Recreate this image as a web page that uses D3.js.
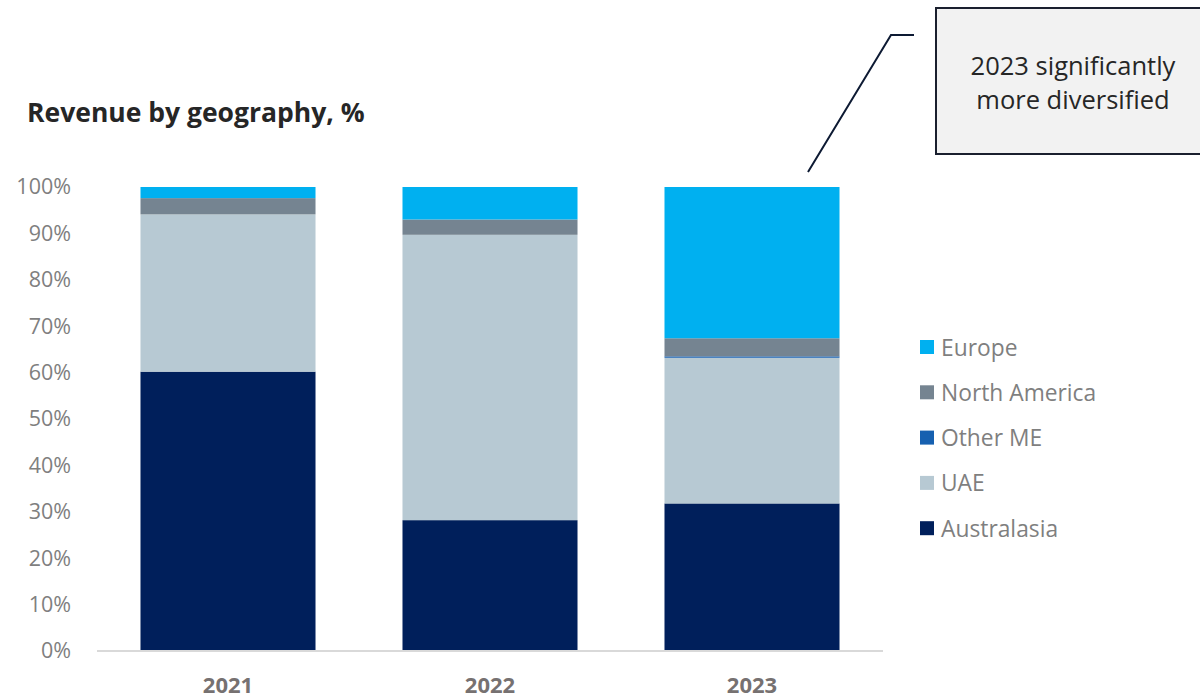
<!DOCTYPE html>
<html>
<head>
<meta charset="utf-8">
<script src="https://cdn.jsdelivr.net/npm/d3@7"></script>
<style>
  html, body { margin: 0; padding: 0; background: #ffffff; }
  svg { display: block; font-family: "Open Sans", "Noto Sans", sans-serif; }
</style>
</head>
<body>
<svg id="chart" width="1200" height="698"></svg>
<script>
// Revenue share by region, per year (percent of total)
const years = ["2021", "2022", "2023"];
const australasia = [60.2, 28.2, 31.8];
const uae = [33.9, 61.5, 31.4];
const otherME = [0.0, 0.0, 0.3];
const northAmerica = [3.5, 3.3, 3.9];
const europe = [2.4, 7.0, 32.6];
const yTicks = [0, 10, 20, 30, 40, 50, 60, 70, 80, 90, 100];

const seriesNames = ["Australasia", "UAE", "Other ME", "North America", "Europe"];
const seriesValues = [australasia, uae, otherME, northAmerica, europe];
const seriesColors = ["#001f5b", "#b7c9d3", "#1660b0", "#758491", "#00b0f0"];

const svg = d3.select("#chart");

const rows = years.map((yr, i) => {
  const r = { year: yr };
  seriesNames.forEach((n, k) => { r[n] = seriesValues[k][i]; });
  return r;
});

const stack = d3.stack().keys(seriesNames);
const layers = stack(rows);

const x = d3.scaleBand().domain(years).range([97, 883]).paddingInner(0.332).paddingOuter(0.166);
const y = d3.scaleLinear().domain([0, 100]).range([651, 187]);
const color = d3.scaleOrdinal().domain(seriesNames).range(seriesColors);

// Title
svg.append("text")
  .attr("x", 27).attr("y", 122)
  .attr("font-size", 26.5).attr("font-weight", 700)
  .attr("fill", "#262626")
  .text("Revenue by geography, %");

// Y axis labels
const yAxis = d3.axisLeft(y).tickValues(yTicks).tickFormat(d => d + "%").tickSize(0).tickPadding(0);
const yG = svg.append("g").attr("transform", "translate(71,0)").call(yAxis);
yG.select(".domain").remove();
yG.selectAll("text").attr("font-size", 21.5).attr("fill", "#7f7f7f").attr("font-family", "\"Open Sans\", sans-serif");

// Stacked bars
svg.append("g").selectAll("g").data(layers).join("g")
  .attr("fill", d => color(d.key))
  .selectAll("rect").data(d => d).join("rect")
  .attr("x", d => x(d.data.year))
  .attr("width", x.bandwidth())
  .attr("y", d => y(d[1]))
  .attr("height", d => Math.max(0, y(d[0]) - y(d[1])));

// X axis
const xAxis = d3.axisBottom(x).tickSize(0).tickPadding(0);
const xG = svg.append("g").attr("transform", `translate(0,${y(0)})`).call(xAxis);
xG.select(".domain").attr("stroke", "#d9d9d9").attr("stroke-width", 2)
  .attr("d", "M97,0H883");
xG.selectAll("text").attr("dy", null).attr("y", 42)
  .attr("font-size", 22).attr("font-weight", 700).attr("fill", "#767171")
  .attr("font-family", "\"Open Sans\", sans-serif");

// Legend (top to bottom: Europe ... Australasia)
const legendOrder = seriesNames.slice().reverse();
const legend = svg.append("g").selectAll("g").data(legendOrder).join("g")
  .attr("transform", (d, i) => `translate(920,${347 + i * 45.3})`);
legend.append("rect").attr("x", 0).attr("y", -7).attr("width", 14).attr("height", 14)
  .attr("fill", d => color(d));
legend.append("text").attr("x", 21).attr("y", 8.5)
  .attr("font-size", 22.8).attr("fill", "#7f7f7f")
  .text(d => d);

// Callout
svg.append("path")
  .attr("d", "M808,172L891,35L914,35")
  .attr("fill", "none").attr("stroke", "#0d1a33").attr("stroke-width", 2);

svg.append("rect")
  .attr("x", 936).attr("y", 8).attr("width", 280).attr("height", 146)
  .attr("fill", "#f2f2f2").attr("stroke", "#1a1f2e").attr("stroke-width", 2);

const note = svg.append("text")
  .attr("text-anchor", "middle")
  .attr("font-size", 25.5).attr("fill", "#262626");
note.append("tspan").attr("x", 1073).attr("y", 75).text("2023 significantly");
note.append("tspan").attr("x", 1073).attr("y", 109).text("more diversified");
</script>
</body>
</html>
